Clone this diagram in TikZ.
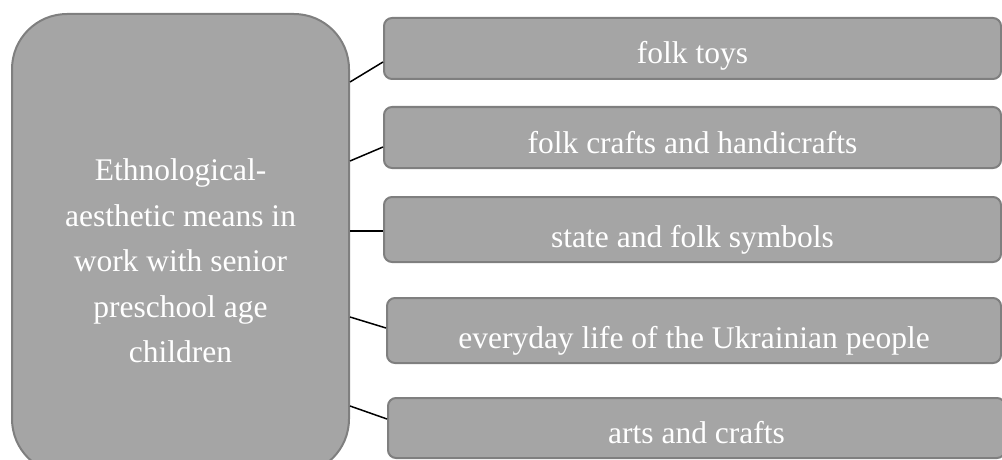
\documentclass[tikz,border=0pt]{standalone}
\usepackage{fontspec}
\setmainfont{Liberation Serif}
\usetikzlibrary{positioning}
\definecolor{boxfill}{RGB}{165,165,165}
\definecolor{boxline}{RGB}{127,127,127}

\begin{document}
\begin{tikzpicture}[x=1pt,y=-1pt,node distance=26pt]
  \tikzset{item/.style={draw=boxline,line width=2pt,fill=boxfill,rounded corners=8pt,
      minimum width=617pt,minimum height=61pt,inner sep=0pt,
      text height=46pt,text depth=15pt,text=white,font=\fontsize{31.5}{45}\selectfont}}
  \tikzset{link/.style={line width=1.5pt}}
  \useasboundingbox (0,0) rectangle (1002,460);
  \clip (0,0) rectangle (1002,460);
  \node (means) [draw=boxline,line width=2pt,fill=boxfill,rounded corners=55pt,minimum width=337pt,minimum height=460pt] at (180.5,244) {};
  \node (meanstext) at (180.5,261) [text=white,align=center,font=\fontsize{31.5}{45.5}\selectfont] {Ethnological-\\aesthetic means in\\work with senior\\preschool age\\children};
  \node (toys) [item] at (692.5,48.5) {folk toys};
  \node (crafts) [item,below=of toys] {folk crafts and handicrafts};
  \node (symbols) [item,below=27pt of crafts,minimum height=65pt,text height=50pt] {state and folk symbols};
  \node (life) [item,below=34pt of symbols,xshift=1.5pt,minimum width=614pt,minimum height=65pt,text height=50pt] {everyday life of the Ukrainian people};
  \node (arts) [item,below=33pt of life,xshift=2.5pt,minimum height=60pt,text height=45pt] {arts and crafts};
  \draw[link] (means.east |- 0,82) -- (toys.west |- 0,62);
  \draw[link] (means.east |- 0,161) -- (crafts.west |- 0,147);
  \draw[link] (means.east |- 0,231) -- (symbols.west |- 0,231);
  \draw[link] (means.east |- 0,317) -- (life.west |- 0,328);
  \draw[link] (means.east |- 0,406) -- (arts.west |- 0,419);
\end{tikzpicture}
\end{document}
